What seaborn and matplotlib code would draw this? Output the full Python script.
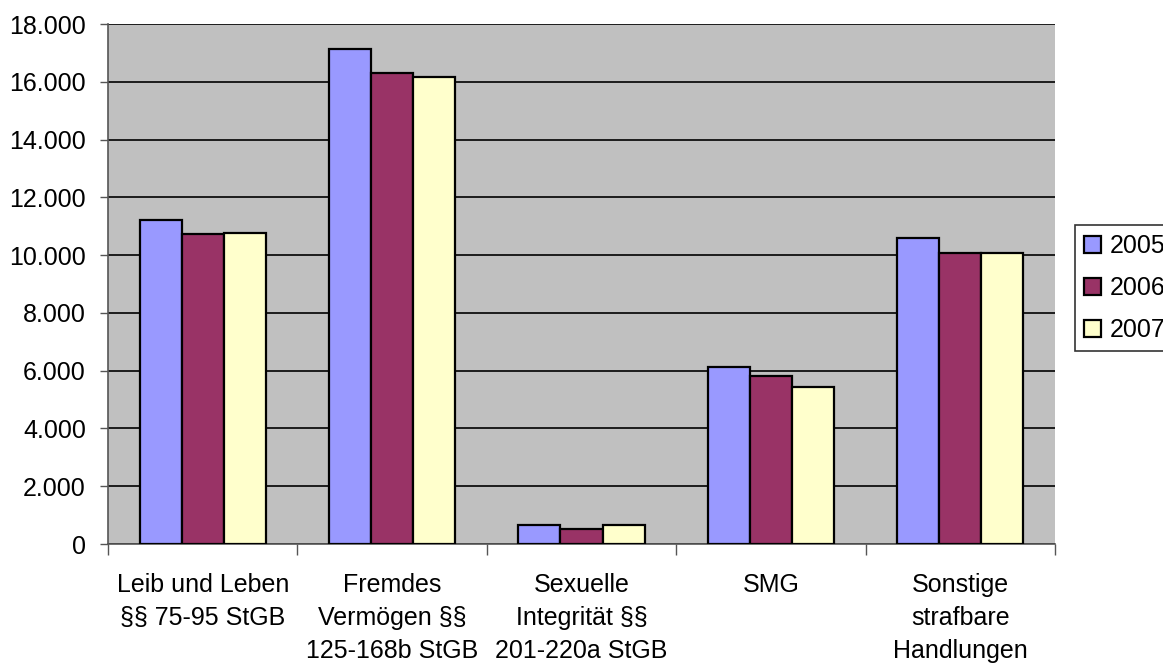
import pandas as pd
import matplotlib.pyplot as plt
import seaborn as sns
from matplotlib.ticker import FixedLocator, FuncFormatter

categories = [
    "Leib und Leben\n§§ 75-95 StGB",
    "Fremdes\nVermögen §§\n125-168b StGB",
    "Sexuelle\nIntegrität §§\n201-220a StGB",
    "SMG",
    "Sonstige\nstrafbare\nHandlungen",
]
years = ["2005", "2006", "2007"]
values_2005 = [11200, 17130, 660, 6120, 10600]
values_2006 = [10720, 16290, 530, 5800, 10070]
values_2007 = [10780, 16150, 660, 5430, 10070]
colors = ["#9999FF", "#993366", "#FFFFCC"]

rows = []
for year, vals in zip(years, [values_2005, values_2006, values_2007]):
    for cat, v in zip(categories, vals):
        rows.append({"Kategorie": cat, "Jahr": year, "Wert": v})
df = pd.DataFrame(rows)

sns.set_style("white")
plt.rcParams["font.family"] = ["Liberation Sans", "DejaVu Sans"]
plt.rcParams["text.color"] = "black"
plt.rcParams["xtick.color"] = "black"
plt.rcParams["ytick.color"] = "black"

fig = plt.figure(figsize=(11.63, 6.64), dpi=100)
ax = fig.add_axes([108 / 1163, 120 / 664, 947 / 1163, 520 / 664])
ax.set_facecolor("#C0C0C0")

sns.barplot(data=df, x="Kategorie", y="Wert", hue="Jahr", order=categories,
            hue_order=years, palette=colors, width=0.667, edgecolor="black",
            linewidth=1.6, saturation=1, ax=ax, zorder=3)

ax.set_xlim(-0.5, len(categories) - 0.5)
ax.set_ylim(0, 18000)
ax.set_yticks(range(0, 18001, 2000))
ax.yaxis.set_major_formatter(FuncFormatter(lambda v, p: f"{int(v):,}".replace(",", ".")))
ax.yaxis.grid(True, color="black", linewidth=1.2, zorder=0)
ax.set_axisbelow(True)

ax.xaxis.set_minor_locator(FixedLocator([i - 0.5 for i in range(len(categories) + 1)]))
ax.tick_params(axis="x", which="major", length=0, pad=21, labelsize=18, labelcolor="black")
ax.tick_params(axis="x", which="minor", length=8, color="#555555", width=1)
ax.tick_params(axis="y", length=6, color="#555555", width=1, labelsize=18, pad=10,
               labelcolor="black")
ax.yaxis.set_ticks_position("left")
ax.xaxis.set_ticks_position("bottom")
for lab in ax.get_xticklabels():
    lab.set_linespacing(1.47)

ax.set_xlabel("")
ax.set_ylabel("")
for side in ["top", "right"]:
    ax.spines[side].set_visible(False)
for side in ["left", "bottom"]:
    ax.spines[side].set_color("#555555")
    ax.spines[side].set_linewidth(1.2)

handles, labels = ax.get_legend_handles_labels()
leg = ax.legend(handles, labels, loc="upper left", bbox_to_anchor=(1075 / 1163, 1 - 225 / 664),
                bbox_transform=fig.transFigure, frameon=True, fancybox=False,
                edgecolor="black", fontsize=18, handlelength=0.68, handleheight=0.68,
                handletextpad=0.36, labelspacing=0.72, borderpad=0.36, borderaxespad=0)
leg.get_frame().set_linewidth(1.2)
for t in leg.get_texts():
    t.set_color("black")

fig.savefig("out.png", dpi=100)
plt.close()
